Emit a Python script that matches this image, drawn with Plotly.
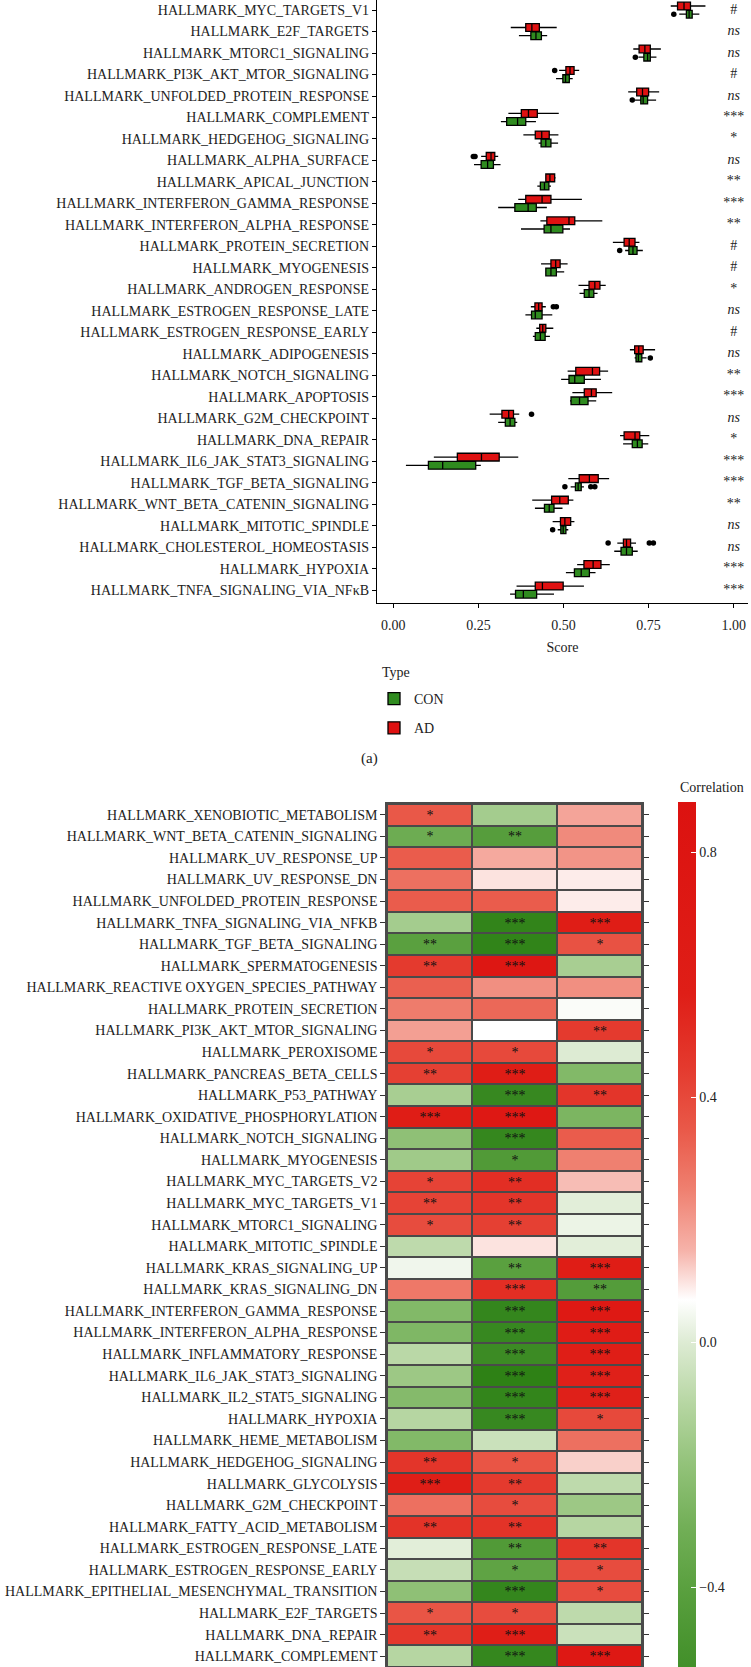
import plotly.graph_objects as go

W, H = 751, 1667
FONT = "Liberation Serif"

# ---------------- Panel (a): box plots ----------------
top_terms = [
    "HALLMARK_MYC_TARGETS_V1", "HALLMARK_E2F_TARGETS", "HALLMARK_MTORC1_SIGNALING",
    "HALLMARK_PI3K_AKT_MTOR_SIGNALING", "HALLMARK_UNFOLDED_PROTEIN_RESPONSE",
    "HALLMARK_COMPLEMENT", "HALLMARK_HEDGEHOG_SIGNALING", "HALLMARK_ALPHA_SURFACE",
    "HALLMARK_APICAL_JUNCTION", "HALLMARK_INTERFERON_GAMMA_RESPONSE",
    "HALLMARK_INTERFERON_ALPHA_RESPONSE", "HALLMARK_PROTEIN_SECRETION",
    "HALLMARK_MYOGENESIS", "HALLMARK_ANDROGEN_RESPONSE", "HALLMARK_ESTROGEN_RESPONSE_LATE",
    "HALLMARK_ESTROGEN_RESPONSE_EARLY", "HALLMARK_ADIPOGENESIS", "HALLMARK_NOTCH_SIGNALING",
    "HALLMARK_APOPTOSIS", "HALLMARK_G2M_CHECKPOINT", "HALLMARK_DNA_REPAIR",
    "HALLMARK_IL6_JAK_STAT3_SIGNALING", "HALLMARK_TGF_BETA_SIGNALING",
    "HALLMARK_WNT_BETA_CATENIN_SIGNALING", "HALLMARK_MITOTIC_SPINDLE",
    "HALLMARK_CHOLESTEROL_HOMEOSTASIS", "HALLMARK_HYPOXIA", "HALLMARK_TNFA_SIGNALING_VIA_NF\u03baB",
]

ad_lo  = [0.815, 0.345, 0.705, 0.487, 0.690, 0.338, 0.382, 0.258, 0.446, 0.367, 0.432, 0.645, 0.434, 0.544,
          0.404, 0.420, 0.695, 0.512, 0.526, 0.283, 0.666, 0.119, 0.514, 0.408, 0.468, 0.658, 0.540, 0.362]
ad_q1  = [0.835, 0.389, 0.722, 0.507, 0.715, 0.376, 0.417, 0.273, 0.448, 0.389, 0.451, 0.678, 0.463, 0.575,
          0.416, 0.430, 0.709, 0.536, 0.561, 0.319, 0.678, 0.188, 0.546, 0.465, 0.491, 0.676, 0.560, 0.417]
ad_med = [0.854, 0.407, 0.739, 0.519, 0.732, 0.397, 0.436, 0.287, 0.460, 0.437, 0.516, 0.693, 0.477, 0.592,
          0.427, 0.439, 0.721, 0.585, 0.582, 0.339, 0.710, 0.259, 0.576, 0.489, 0.504, 0.685, 0.587, 0.438]
ad_q3  = [0.873, 0.429, 0.755, 0.531, 0.750, 0.423, 0.458, 0.298, 0.474, 0.463, 0.533, 0.710, 0.490, 0.607,
          0.437, 0.448, 0.734, 0.606, 0.596, 0.353, 0.724, 0.311, 0.602, 0.514, 0.521, 0.697, 0.610, 0.499]
ad_hi  = [0.917, 0.480, 0.786, 0.546, 0.781, 0.486, 0.485, 0.308, 0.477, 0.554, 0.614, 0.723, 0.512, 0.624,
          0.448, 0.470, 0.769, 0.631, 0.643, 0.370, 0.752, 0.367, 0.634, 0.529, 0.532, 0.713, 0.636, 0.560]

con_lo  = [0.840, 0.369, 0.720, 0.478, 0.710, 0.316, 0.427, 0.237, 0.423, 0.308, 0.375, 0.681, 0.446, 0.547,
           0.388, 0.410, 0.709, 0.493, 0.519, 0.308, 0.675, 0.037, 0.521, 0.416, 0.483, 0.649, 0.507, 0.343]
con_q1  = [0.861, 0.404, 0.736, 0.498, 0.727, 0.333, 0.434, 0.258, 0.432, 0.357, 0.443, 0.692, 0.448, 0.561,
           0.406, 0.417, 0.713, 0.516, 0.522, 0.329, 0.702, 0.103, 0.535, 0.444, 0.492, 0.669, 0.532, 0.359]
con_med = [0.869, 0.419, 0.747, 0.506, 0.734, 0.365, 0.448, 0.277, 0.444, 0.396, 0.463, 0.704, 0.463, 0.575,
           0.417, 0.432, 0.720, 0.533, 0.547, 0.343, 0.717, 0.145, 0.543, 0.458, 0.499, 0.685, 0.552, 0.382]
con_q3  = [0.878, 0.435, 0.755, 0.517, 0.747, 0.389, 0.463, 0.294, 0.457, 0.420, 0.498, 0.716, 0.479, 0.589,
           0.437, 0.446, 0.730, 0.561, 0.572, 0.357, 0.731, 0.242, 0.552, 0.472, 0.507, 0.702, 0.576, 0.421]
con_hi  = [0.899, 0.452, 0.773, 0.527, 0.772, 0.419, 0.484, 0.315, 0.463, 0.451, 0.519, 0.733, 0.502, 0.600,
           0.467, 0.460, 0.744, 0.610, 0.596, 0.364, 0.749, 0.257, 0.560, 0.497, 0.514, 0.718, 0.594, 0.472]

ad_out_term = ["HALLMARK_PI3K_AKT_MTOR_SIGNALING", "HALLMARK_ALPHA_SURFACE", "HALLMARK_ALPHA_SURFACE",
               "HALLMARK_ESTROGEN_RESPONSE_LATE", "HALLMARK_ESTROGEN_RESPONSE_LATE",
               "HALLMARK_G2M_CHECKPOINT", "HALLMARK_CHOLESTEROL_HOMEOSTASIS",
               "HALLMARK_CHOLESTEROL_HOMEOSTASIS", "HALLMARK_CHOLESTEROL_HOMEOSTASIS"]
ad_out_val = [0.474, 0.240, 0.235, 0.470, 0.479, 0.406, 0.631, 0.752, 0.764]
con_out_term = ["HALLMARK_MYC_TARGETS_V1", "HALLMARK_MTORC1_SIGNALING", "HALLMARK_UNFOLDED_PROTEIN_RESPONSE",
                "HALLMARK_PROTEIN_SECRETION", "HALLMARK_ADIPOGENESIS", "HALLMARK_TGF_BETA_SIGNALING",
                "HALLMARK_TGF_BETA_SIGNALING", "HALLMARK_TGF_BETA_SIGNALING", "HALLMARK_MITOTIC_SPINDLE"]
con_out_val = [0.824, 0.711, 0.702, 0.665, 0.755, 0.504, 0.580, 0.592, 0.468]

sig_labels = ["#", "ns", "ns", "#", "ns", "***", "*", "ns", "**", "***", "**", "#", "#", "*",
              "ns", "#", "ns", "**", "***", "ns", "*", "***", "***", "**", "ns", "ns", "***", "***"]

x_ticks = [0.0, 0.25, 0.5, 0.75, 1.0]
x_tick_text = ["0.00", "0.25", "0.50", "0.75", "1.00"]

# ---------------- Panel (b): correlation heatmap ----------------
hm_terms = [
    "HALLMARK_XENOBIOTIC_METABOLISM", "HALLMARK_WNT_BETA_CATENIN_SIGNALING", "HALLMARK_UV_RESPONSE_UP",
    "HALLMARK_UV_RESPONSE_DN", "HALLMARK_UNFOLDED_PROTEIN_RESPONSE", "HALLMARK_TNFA_SIGNALING_VIA_NFKB",
    "HALLMARK_TGF_BETA_SIGNALING", "HALLMARK_SPERMATOGENESIS", "HALLMARK_REACTIVE OXYGEN_SPECIES_PATHWAY",
    "HALLMARK_PROTEIN_SECRETION", "HALLMARK_PI3K_AKT_MTOR_SIGNALING", "HALLMARK_PEROXISOME",
    "HALLMARK_PANCREAS_BETA_CELLS", "HALLMARK_P53_PATHWAY", "HALLMARK_OXIDATIVE_PHOSPHORYLATION",
    "HALLMARK_NOTCH_SIGNALING", "HALLMARK_MYOGENESIS", "HALLMARK_MYC_TARGETS_V2", "HALLMARK_MYC_TARGETS_V1",
    "HALLMARK_MTORC1_SIGNALING", "HALLMARK_MITOTIC_SPINDLE", "HALLMARK_KRAS_SIGNALING_UP",
    "HALLMARK_KRAS_SIGNALING_DN", "HALLMARK_INTERFERON_GAMMA_RESPONSE", "HALLMARK_INTERFERON_ALPHA_RESPONSE",
    "HALLMARK_INFLAMMATORY_RESPONSE", "HALLMARK_IL6_JAK_STAT3_SIGNALING", "HALLMARK_IL2_STAT5_SIGNALING",
    "HALLMARK_HYPOXIA", "HALLMARK_HEME_METABOLISM", "HALLMARK_HEDGEHOG_SIGNALING", "HALLMARK_GLYCOLYSIS",
    "HALLMARK_G2M_CHECKPOINT", "HALLMARK_FATTY_ACID_METABOLISM", "HALLMARK_ESTROGEN_RESPONSE_LATE",
    "HALLMARK_ESTROGEN_RESPONSE_EARLY", "HALLMARK_EPITHELIAL_MESENCHYMAL_TRANSITION", "HALLMARK_E2F_TARGETS",
    "HALLMARK_DNA_REPAIR", "HALLMARK_COMPLEMENT",
]
hm_cols = ["Cell 1", "Cell 2", "Cell 3"]
corr = [
    [0.35, -0.15, 0.18], [-0.32, -0.42, 0.23], [0.34, 0.17, 0.21], [0.29, 0.10, 0.09],
    [0.34, 0.34, 0.09], [-0.15, -0.65, 0.60], [-0.40, -0.66, 0.37], [0.45, 0.75, -0.14],
    [0.33, 0.22, 0.22], [0.26, 0.31, 0.06], [0.19, 0.07, 0.45], [0.40, 0.40, 0.00],
    [0.43, 0.60, -0.25], [-0.14, -0.60, 0.47], [0.60, 0.72, -0.27], [-0.21, -0.62, 0.34],
    [-0.16, -0.45, 0.25], [0.42, 0.50, 0.14], [0.42, 0.47, 0.01], [0.39, 0.43, 0.03],
    [-0.08, 0.10, 0.01], [0.04, -0.40, 0.60], [0.27, 0.50, -0.43], [-0.25, -0.63, 0.70],
    [-0.26, -0.60, 0.62], [-0.09, -0.57, 0.58], [-0.17, -0.70, 0.56], [-0.24, -0.64, 0.56],
    [-0.10, -0.60, 0.40], [-0.25, -0.05, 0.29], [0.47, 0.36, 0.12], [0.57, 0.45, -0.08],
    [0.29, 0.39, -0.17], [0.48, 0.48, -0.10], [0.01, -0.45, 0.47], [-0.06, -0.38, 0.39],
    [-0.21, -0.63, 0.39], [0.36, 0.39, -0.08], [0.46, 0.57, -0.05], [-0.10, -0.62, 0.72],
]
stars = [
    ["*", "", ""], ["*", "**", ""], ["", "", ""], ["", "", ""], ["", "", ""], ["", "***", "***"],
    ["**", "***", "*"], ["**", "***", ""], ["", "", ""], ["", "", ""], ["", "", "**"], ["*", "*", ""],
    ["**", "***", ""], ["", "***", "**"], ["***", "***", ""], ["", "***", ""], ["", "*", ""],
    ["*", "**", ""], ["**", "**", ""], ["*", "**", ""], ["", "", ""], ["", "**", "***"],
    ["", "***", "**"], ["", "***", "***"], ["", "***", "***"], ["", "***", "***"], ["", "***", "***"],
    ["", "***", "***"], ["", "***", "*"], ["", "", ""], ["**", "*", ""], ["***", "**", ""],
    ["", "*", ""], ["**", "**", ""], ["", "**", "**"], ["", "*", "*"], ["", "***", "*"],
    ["*", "*", ""], ["**", "***", ""], ["", "***", "***"],
]
cb_ticks = [-0.4, 0.0, 0.4, 0.8]
cb_tick_text = ["\u22120.4", "0.0", "0.4", "0.8"]
z_min, z_max = -0.74, 0.883
cscale_vals = [-0.74, -0.60, -0.50, -0.40, -0.30, -0.20, -0.10, 0.00, 0.07, 0.15, 0.25, 0.35, 0.45, 0.57, 0.883]
cscale_cols = ["#2A7E10", "#378820", "#47932E", "#5AA03F", "#72AF57", "#92C279", "#B6D6A2", "#DDEBD3",
               "#FFFFFF", "#F6B3AA", "#EF8070", "#E95848", "#E43A2E", "#DF1E17", "#DC1210"]

# ---------------- build ----------------
RED, GREEN = "#DF1111", "#2F8B1F"
OFF, BW = 0.19, 0.36
n_top = len(top_terms)
pos = {t: n_top - 1 - i for i, t in enumerate(top_terms)}

fig = go.Figure()
groups = [
    ("CON", con_lo, con_q1, con_med, con_q3, con_hi, GREEN, -1, con_out_term, con_out_val),
    ("AD", ad_lo, ad_q1, ad_med, ad_q3, ad_hi, RED, 1, ad_out_term, ad_out_val),
]
for name, lo, q1, med, q3, hi, col, sgn, oterm, oval in groups:
    fig.add_trace(go.Box(
        orientation="h", name=name, legendgroup=name,
        y=[pos[t] + sgn * OFF for t in top_terms],
        q1=q1, median=med, q3=q3, lowerfence=lo, upperfence=hi,
        width=BW, whiskerwidth=0, fillcolor=col,
        line=dict(color="black", width=1.3),
        xaxis="x", yaxis="y", hoverinfo="x+y",
    ))
for name, lo, q1, med, q3, hi, col, sgn, oterm, oval in groups:
    fig.add_trace(go.Scatter(
        x=oval, y=[pos[t] + sgn * OFF for t in oterm], mode="markers",
        marker=dict(color="black", size=5.5), showlegend=False, xaxis="x", yaxis="y",
    ))

fig.add_trace(go.Scatter(
    x=[1.0] * n_top, y=[pos[t] for t in top_terms], mode="text",
    text=[("<i>%s</i>" % s) if s == "ns" else s for s in sig_labels],
    textfont=dict(family=FONT, size=14, color="#222"), showlegend=False,
    cliponaxis=False, xaxis="x", yaxis="y",
))

n_hm = len(hm_terms)
hm_pos = [n_hm - 1 - i for i in range(n_hm)]
span = z_max - z_min
colorscale = [[(v - z_min) / span, c] for v, c in zip(cscale_vals, cscale_cols)]
colorscale[0][0] = 0.0
colorscale[-1][0] = 1.0

px_per_unit = (1587.7 - 852.4) / 1.2
fig.add_trace(go.Heatmap(
    z=corr, x=list(range(len(hm_cols))), y=hm_pos, text=stars, texttemplate="%{text}",
    textfont=dict(family=FONT, size=14, color="#111"),
    colorscale=colorscale, zmin=z_min, zmax=z_max, xgap=2, ygap=2,
    xaxis="x2", yaxis="y2", showscale=True,
    colorbar=dict(
        x=678 / W, xanchor="left", xref="paper", xpad=0, ypad=0,
        y=1 - 801.5 / H, yanchor="top", thickness=18,
        lenmode="pixels", len=span * px_per_unit, outlinewidth=0,
        tickvals=cb_ticks, ticktext=cb_tick_text, ticks="inside", ticklen=5,
        tickcolor="white", tickwidth=1,
        tickfont=dict(family=FONT, size=14, color="#222"),
    ),
))

fig.add_shape(type="rect", xref="x2", yref="y2", x0=-0.5, x1=2.5, y0=-0.5, y1=n_hm - 0.5,
              fillcolor="#4a4a4a", line=dict(width=0), layer="below")

axis_font = dict(family=FONT, size=14, color="#222")
fig.update_layout(
    width=W, height=H,
    margin=dict(l=0, r=0, t=0, b=0, autoexpand=False),
    paper_bgcolor="white", plot_bgcolor="white",
    font=dict(family=FONT, size=14, color="#222"),
    boxmode="overlay",
    xaxis=dict(domain=[377 / W, 748 / W], range=[-0.048, 1.042], anchor="y",
               tickvals=x_ticks, ticktext=x_tick_text, tickfont=axis_font,
               ticks="outside", ticklen=4, tickwidth=1.2, tickcolor="black",
               ticklabelstandoff=5,
               showline=True, linecolor="black", linewidth=1.3,
               showgrid=False, zeroline=False,
               title=dict(text="Score", font=dict(family=FONT, size=14, color="#222"), standoff=10)),
    yaxis=dict(domain=[1 - 603 / H, 1], range=[-0.6, n_top - 1 + 0.47], anchor="x",
               tickvals=[pos[t] for t in top_terms], ticktext=top_terms, tickfont=axis_font,
               ticks="outside", ticklen=4, tickwidth=1.2, tickcolor="black",
               showline=True, linecolor="black", linewidth=1.3,
               showgrid=False, zeroline=False),
    xaxis2=dict(domain=[387 / W, 642 / W], range=[-0.5, 2.5], anchor="y2",
                showticklabels=False, ticks="", showgrid=False, zeroline=False,
                showline=True, mirror=True, linecolor="#4a4a4a", linewidth=1.5),
    yaxis2=dict(domain=[0, 1 - 804 / H], range=[-0.5, n_hm - 0.5], anchor="x2",
                tickvals=hm_pos, ticktext=hm_terms, tickfont=axis_font,
                ticks="outside", ticklen=5, tickwidth=1.2, tickcolor="#333",
                showline=True, mirror="ticks", linecolor="#4a4a4a", linewidth=1.5,
                showgrid=False, zeroline=False),
    legend=dict(x=374 / W, y=1 - 683 / H, xanchor="left", yanchor="top",
                font=dict(family=FONT, size=14, color="#222"),
                bgcolor="rgba(0,0,0,0)", tracegroupgap=8),
    annotations=[
        dict(text="Type", x=380 / W, y=1 - 672 / H, xref="paper", yref="paper",
             xanchor="left", yanchor="middle", showarrow=False,
             font=dict(family=FONT, size=14, color="#222")),
        dict(text="(a)", x=369 / W, y=1 - 758 / H, xref="paper", yref="paper",
             showarrow=False, font=dict(family=FONT, size=15, color="#222")),
        dict(text="Correlation", x=678 / W, y=1 - 787 / H, xref="paper", yref="paper",
             xanchor="left", yanchor="middle", showarrow=False,
             font=dict(family=FONT, size=14, color="#222")),
    ],
)

fig.write_html("out.html", config={"displayModeBar": False},
               post_script="document.body.style.margin='0';")
